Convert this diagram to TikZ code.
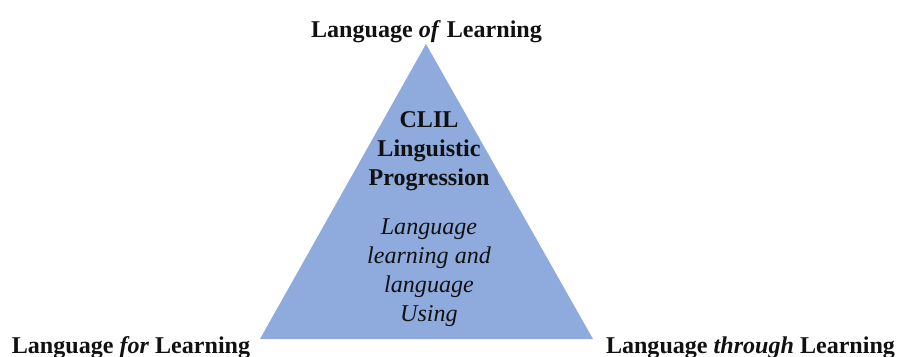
\documentclass[tikz,border=0pt]{standalone}
\usepackage{fontspec}
\usepackage{xcolor}
\usepackage{tikz}
\setmainfont{Liberation Serif}
\definecolor{blueTriangle}{HTML}{8FAADC}
\definecolor{textDark}{HTML}{111111}

\tikzset{
    cornerlabel/.style={font=\fontsize{13.7pt}{16.5pt}\selectfont\bfseries, text=textDark, inner sep=0pt, anchor=base},
    innertext/.style={font=\fontsize{13.7pt}{16.5pt}\selectfont, text=textDark, inner sep=0pt, align=center}
}

\begin{document}
\begin{tikzpicture}

            \useasboundingbox (0,0) rectangle (17.98,7.12);

            % corners of the triangle
            \coordinate (apex) at (8.52,6.24);
            \coordinate (baseL) at (5.20,0.34);
            \coordinate (baseR) at (11.86,0.34);

            \fill[blueTriangle] (apex) -- (baseL) -- (baseR) -- cycle;

            \node[cornerlabel] (top) at (8.53,6.38) {Language \textit{of} Learning};
            \node[cornerlabel] (left) at (2.62,0.06) {Language \textit{for} Learning};
            \node[cornerlabel] (right) at (15.01,0.06) {Language \textit{through} Learning};

            \node[innertext, font=\fontsize{13.7pt}{16.5pt}\selectfont\bfseries] (title) at (8.58,4.09)
                {CLIL\\Linguistic\\Progression};
            \node[innertext, font=\fontsize{13.7pt}{16.5pt}\selectfont\itshape] (body) at (8.58,1.66)
                {Language\\learning and\\language\\Using};

        \end{tikzpicture}
\end{document}
